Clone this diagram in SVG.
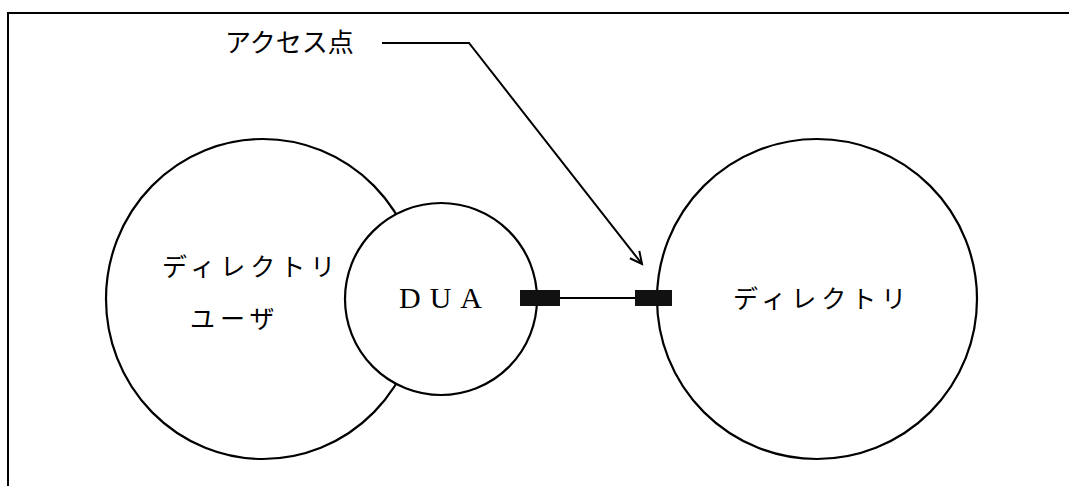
<svg xmlns="http://www.w3.org/2000/svg" width="1069" height="486" viewBox="0 0 1069 486">
<style>
.ln{fill:none;stroke:#000;stroke-width:2}
.c{fill:#fff;stroke:#000;stroke-width:2.2}
.jp{font-family:"Noto Sans CJK JP","Noto Sans CJK SC",sans-serif;font-size:25px;fill:#000;letter-spacing:5px}
.lbl{font-family:"Noto Sans CJK JP","Noto Sans CJK SC",sans-serif;font-size:26px;fill:#000}
.en{font-family:"Liberation Serif",serif;font-size:30px;fill:#000;letter-spacing:9px}
.port{fill:#111}
</style>
<defs>
<marker id="ah" markerWidth="16" markerHeight="16" refX="13" refY="8" orient="auto" markerUnits="userSpaceOnUse">
<path d="M1,2 L13,8 L1,14" fill="none" stroke="#000" stroke-width="2"/>
</marker>
</defs>
<rect width="1069" height="486" fill="#fff"/>
<path class="ln" d="M8,486 L8,13 L1069,13"/>
<g id="user">
<ellipse class="c" cx="263" cy="299" rx="157" ry="160"/>
<text class="jp" x="162" y="276">ディレクトリ</text>
<text class="jp" x="190" y="328">ユーザ</text>
</g>
<g id="dua">
<circle class="c" cx="441" cy="299" r="96"/>
<text class="en" x="445" y="308" text-anchor="middle">DUA</text>
</g>
<g id="directory">
<circle class="c" cx="817" cy="299" r="160"/>
<text class="jp" x="733" y="308">ディレクトリ</text>
</g>
<g id="access-label">
<text class="lbl" x="225" y="52">アクセス点</text>
</g>
<g id="connectors">
<line class="ln" x1="560" y1="298" x2="635" y2="298"/>
<rect class="port" x="520" y="290" width="40" height="16"/>
<rect class="port" x="635" y="290" width="37" height="16"/>
<path class="ln" d="M382,43 L469,43 L642,264" marker-end="url(#ah)"/>
</g>
</svg>
